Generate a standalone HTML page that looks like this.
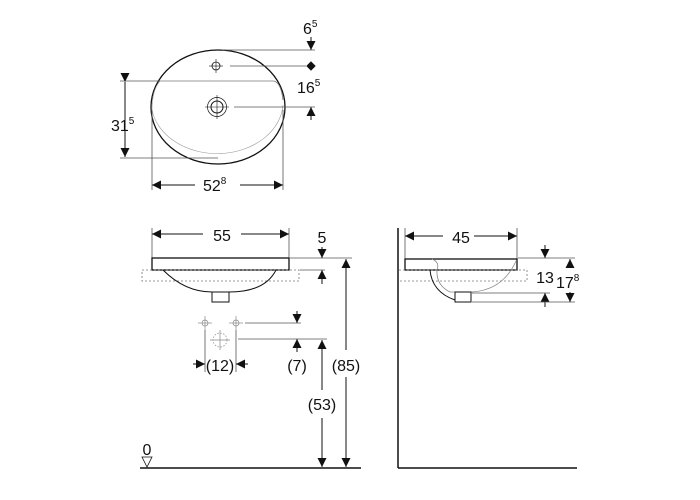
<!DOCTYPE html>
<html><head><meta charset="utf-8"><style>
html,body{margin:0;padding:0;background:#fff;width:700px;height:500px;overflow:hidden}
text{font-family:"Liberation Sans",sans-serif;fill:#111}
</style></head><body>
<svg width="700" height="500" viewBox="0 0 700 500" xmlns="http://www.w3.org/2000/svg">
<defs>
<marker id="a" viewBox="0 0 10 10" refX="10" refY="5" markerWidth="9" markerHeight="9" markerUnits="userSpaceOnUse" orient="auto"><path d="M0,0L10,5L0,10z" fill="#111"/></marker>
</defs>
<g stroke="#111" stroke-width="1" fill="none">
<ellipse cx="218" cy="107" rx="67" ry="57" stroke-width="1.3"/>
<path d="M160,81 L274,81 Q281,83 283,100" stroke="#777" stroke-width="0.8"/>
<path d="M160,81 Q152,90 152,110 A66,52 0 0 0 283,105" stroke="#999" stroke-width="0.6"/>
<line x1="120" y1="81" x2="160" y2="81" stroke="#555" stroke-width="0.8"/>
<line x1="120" y1="158" x2="218" y2="158" stroke="#555" stroke-width="0.8"/>
<line x1="125" y1="82" x2="125" y2="157" marker-start="url(#a)" marker-end="url(#a)" stroke-width="1"/>
<line x1="152" y1="110" x2="152" y2="190" stroke="#555" stroke-width="0.8"/>
<line x1="283" y1="110" x2="283" y2="190" stroke="#555" stroke-width="0.8"/>
<line x1="153" y1="185" x2="195" y2="185"/><line x1="153" y1="185" x2="152" y2="185" marker-end="url(#a)"/>
<line x1="240" y1="185" x2="282" y2="185"/><line x1="270" y1="185" x2="283" y2="185" marker-end="url(#a)"/>
<line x1="222" y1="50" x2="315" y2="50" stroke="#555" stroke-width="0.8"/>
<line x1="311" y1="37" x2="311" y2="50" marker-end="url(#a)"/>
<circle cx="216" cy="66" r="4" stroke-width="0.8"/>
<line x1="209" y1="66" x2="223" y2="66" stroke-width="0.6"/><line x1="216" y1="59" x2="216" y2="73" stroke-width="0.6"/>
<line x1="230" y1="66" x2="306" y2="66" stroke="#555" stroke-width="0.8"/>
<path d="M311,62L315,66L311,70L307,66z" fill="#111"/>
<circle cx="217" cy="107" r="6"/><circle cx="217" cy="107" r="9.5" stroke-width="0.7"/>
<line x1="205" y1="107" x2="229" y2="107" stroke-width="0.6"/><line x1="217" y1="95" x2="217" y2="119" stroke-width="0.6"/>
<line x1="234" y1="107" x2="315" y2="107" stroke="#555" stroke-width="0.8"/>
<line x1="311" y1="120" x2="311" y2="107" marker-end="url(#a)"/>
<line x1="152" y1="228" x2="152" y2="258" stroke="#555" stroke-width="0.8"/>
<line x1="289" y1="228" x2="289" y2="258" stroke="#555" stroke-width="0.8"/>
<line x1="160" y1="234" x2="203" y2="234"/><line x1="160" y1="234" x2="152" y2="234" marker-end="url(#a)"/>
<line x1="241" y1="234" x2="280" y2="234"/><line x1="280" y1="234" x2="289" y2="234" marker-end="url(#a)"/>
<rect x="152" y="258" width="137" height="12" stroke-width="1.3"/>
<rect x="142" y="270" width="157" height="11" stroke="#777" stroke-width="0.8" stroke-dasharray="2,2"/>
<path d="M163,270 Q185,292 212,292 L229,292 Q265,292 276,270" stroke-width="1"/>
<rect x="212" y="292" width="17" height="10" fill="#fff"/>
<line x1="290" y1="258" x2="352" y2="258" stroke="#555" stroke-width="0.8"/>
<line x1="300" y1="270" x2="325" y2="270" stroke="#555" stroke-width="0.8"/>
<line x1="322" y1="247" x2="322" y2="258" marker-end="url(#a)"/>
<line x1="322" y1="284" x2="322" y2="270" marker-end="url(#a)"/>
<line x1="346" y1="350" x2="346" y2="259" marker-end="url(#a)"/>
<line x1="346" y1="377" x2="346" y2="467" marker-end="url(#a)"/>
<g stroke="#888" stroke-width="0.7">
<line x1="198" y1="323" x2="212" y2="323"/><line x1="205" y1="316" x2="205" y2="330"/><circle cx="205" cy="323" r="3"/>
<line x1="229" y1="323" x2="243" y2="323"/><line x1="236" y1="316" x2="236" y2="330"/><circle cx="236" cy="323" r="3"/>
<circle cx="220" cy="340" r="7" stroke-dasharray="1.5,1.5"/><line x1="210" y1="340" x2="230" y2="340"/><line x1="220" y1="330" x2="220" y2="350"/>
</g>
<line x1="205" y1="330" x2="205" y2="372" stroke="#555" stroke-width="0.8"/>
<line x1="236" y1="330" x2="236" y2="372" stroke="#555" stroke-width="0.8"/>
<line x1="193" y1="364" x2="205" y2="364" marker-end="url(#a)"/>
<line x1="248" y1="364" x2="236" y2="364" marker-end="url(#a)"/>
<line x1="245" y1="323" x2="301" y2="323" stroke="#555" stroke-width="0.8"/>
<line x1="297" y1="311" x2="297" y2="323" marker-end="url(#a)"/>
<line x1="238" y1="339" x2="327" y2="339" stroke="#555" stroke-width="0.8"/>
<line x1="297" y1="352" x2="297" y2="339" marker-end="url(#a)"/>
<line x1="322" y1="390" x2="322" y2="340" marker-end="url(#a)"/>
<line x1="322" y1="418" x2="322" y2="467" marker-end="url(#a)"/>
<line x1="140" y1="468" x2="361" y2="468" stroke-width="1.5"/>
<path d="M142,457 L152,457 L147,467 z" stroke-width="0.8"/>
<line x1="398" y1="228" x2="398" y2="468" stroke-width="1.5"/>
<line x1="398" y1="468" x2="577" y2="468" stroke-width="1.5"/>
<line x1="405" y1="228" x2="405" y2="259" stroke="#555" stroke-width="0.8"/>
<line x1="517" y1="228" x2="517" y2="259" stroke="#555" stroke-width="0.8"/>
<line x1="412" y1="236" x2="443" y2="236"/><line x1="412" y1="236" x2="405" y2="236" marker-end="url(#a)"/>
<line x1="474" y1="236" x2="510" y2="236"/><line x1="510" y1="236" x2="517" y2="236" marker-end="url(#a)"/>
<rect x="405" y="259" width="112" height="11" stroke-width="1.3"/>
<path d="M399,270 L527,270 L527,281 L399,281" stroke="#777" stroke-width="0.8" stroke-dasharray="2,2"/>
<path d="M432,259 Q440,262 437,270 Q436,285 450,292 L472,292 Q503,290 516,261" stroke="#888" stroke-width="0.8"/>
<path d="M430,270 Q432,292 455,300" stroke-width="1"/>
<rect x="455" y="292" width="16" height="10" fill="#fff"/>
<line x1="518" y1="258" x2="575" y2="258" stroke="#555" stroke-width="0.8"/>
<line x1="545" y1="245" x2="545" y2="258" marker-end="url(#a)"/>
<line x1="472" y1="293" x2="550" y2="293" stroke="#555" stroke-width="0.8"/>
<line x1="545" y1="307" x2="545" y2="293" marker-end="url(#a)"/>
<line x1="472" y1="302" x2="575" y2="302" stroke="#555" stroke-width="0.8"/>
<line x1="570" y1="268" x2="570" y2="259" marker-end="url(#a)"/>
<line x1="570" y1="292" x2="570" y2="302" marker-end="url(#a)"/>
</g>
<g font-size="16">
<text x="303" y="34">6<tspan font-size="10" dy="-7">5</tspan></text>
<text x="297" y="93">16<tspan font-size="10" dy="-7">5</tspan></text>
<text x="111" y="131">31<tspan font-size="10" dy="-7">5</tspan></text>
<text x="203" y="191">52<tspan font-size="10" dy="-7">8</tspan></text>
<text x="222" y="241" text-anchor="middle">55</text>
<text x="322" y="243" text-anchor="middle">5</text>
<text x="220" y="371" text-anchor="middle">(12)</text>
<text x="297" y="371" text-anchor="middle">(7)</text>
<text x="346" y="371" text-anchor="middle">(85)</text>
<text x="322" y="410" text-anchor="middle">(53)</text>
<text x="147" y="455" text-anchor="middle">0</text>
<text x="461" y="243" text-anchor="middle">45</text>
<text x="545" y="283" text-anchor="middle">13</text>
<text x="556" y="288">17<tspan font-size="10" dy="-7">8</tspan></text>
</g>
</svg>
</body></html>
